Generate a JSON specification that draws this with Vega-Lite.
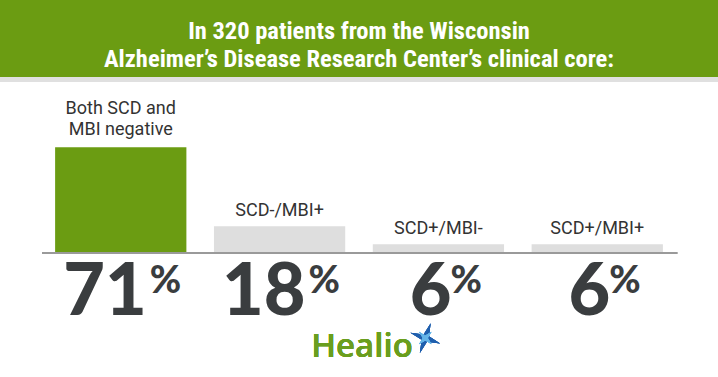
{
  "$schema": "https://vega.github.io/schema/vega-lite/v6.json",
  "width": 718,
  "height": 300,
  "autosize": {"type": "none"},
  "padding": {"top": 77, "left": 0, "right": 0, "bottom": 0},
  "background": "#6b9c12",
  "config": {"view": {"fill": "white", "stroke": null}},
  "title": {
    "text": ["In 320 patients from the Wisconsin", "Alzheimer’s Disease Research Center’s clinical core:"],
    "color": "white",
    "font": "'Roboto Condensed', 'DejaVu Sans Condensed', Roboto, sans-serif",
    "fontWeight": "bold",
    "fontSize": 24.5,
    "lineHeight": 27.5,
    "anchor": "middle",
    "frame": "group",
    "offset": 5
  },
  "data": {
    "values": [
      {"label": "Both SCD and\nMBI negative", "value": 71},
      {"label": "SCD-/MBI+", "value": 18},
      {"label": "SCD+/MBI-", "value": 6},
      {"label": "SCD+/MBI+", "value": 6}
    ]
  },
  "encoding": {
    "x": {"field": "label", "type": "nominal", "sort": null, "axis": null,
          "scale": {"paddingInner": 0.1735, "paddingOuter": 0.347}}
  },
  "layer": [
    {
      "mark": {"type": "rule", "strokeWidth": 5, "color": "#e0e0e0"},
      "encoding": {"x": null, "y": {"datum": 116.3, "type": "quantitative", "scale": {"domain": [-83, 118], "nice": false, "zero": false}, "axis": null}}
    },
    {
      "mark": {"type": "bar"},
      "encoding": {
        "y": {"field": "value", "type": "quantitative", "axis": null},
        "color": {"field": "label", "type": "nominal", "sort": null, "legend": null,
                  "scale": {"range": ["#6b9c12", "#dedede", "#dedede", "#dedede"]}}
      }
    },
    {
      "mark": {"type": "rule", "strokeWidth": 1.5, "color": "#9a9a9a"},
      "encoding": {
        "x": {"datum": "Both SCD and\nMBI negative", "bandPosition": -0.1},
        "x2": {"datum": "SCD+/MBI+", "bandPosition": 1.11},
        "y": {"datum": 0, "type": "quantitative"}
      }
    },
    {
      "transform": [{"filter": "indexof(datum.label, '\\n') < 0"}],
      "mark": {"type": "text", "baseline": "alphabetic", "dy": -10, "font": "Roboto", "fontSize": 18, "color": "#333333"},
      "encoding": {
        "y": {"field": "value", "type": "quantitative"},
        "text": {"field": "label"}
      }
    },
    {
      "transform": [{"filter": "indexof(datum.label, '\\n') >= 0"}],
      "mark": {"type": "text", "baseline": "alphabetic", "dy": -33, "font": "Roboto", "fontSize": 18, "lineHeight": 21, "lineBreak": "\n", "color": "#333333"},
      "encoding": {
        "y": {"field": "value", "type": "quantitative"},
        "text": {"field": "label"}
      }
    },
    {
      "transform": [{"filter": "datum.value >= 10"}],
      "mark": {"type": "text", "align": "right", "baseline": "alphabetic", "dx": 26, "font": "Lato", "fontWeight": 900, "fontSize": 72, "color": "#3a3d3f"},
      "encoding": {"y": {"datum": -41.5, "type": "quantitative"}, "text": {"field": "value"}}
    },
    {
      "transform": [{"filter": "datum.value >= 10"}],
      "mark": {"type": "text", "align": "left", "baseline": "alphabetic", "dx": 29, "font": "Lato", "fontWeight": 900, "fontSize": 38, "color": "#3a3d3f"},
      "encoding": {"y": {"datum": -26.5, "type": "quantitative"}, "text": {"value": "%"}}
    },
    {
      "transform": [{"filter": "datum.value < 10"}],
      "mark": {"type": "text", "align": "right", "baseline": "alphabetic", "dx": 13, "font": "Lato", "fontWeight": 900, "fontSize": 72, "color": "#3a3d3f"},
      "encoding": {"y": {"datum": -41.5, "type": "quantitative"}, "text": {"field": "value"}}
    },
    {
      "transform": [{"filter": "datum.value < 10"}],
      "mark": {"type": "text", "align": "left", "baseline": "alphabetic", "dx": 12, "font": "Lato", "fontWeight": 900, "fontSize": 38, "color": "#3a3d3f"},
      "encoding": {"y": {"datum": -26.5, "type": "quantitative"}, "text": {"value": "%"}}
    },
    {
      "mark": {"type": "text", "align": "center", "baseline": "alphabetic", "font": "Open Sans", "fontWeight": 600, "fontSize": 33, "color": "#6a9e1e"},
      "encoding": {
        "x": {"datum": "SCD-/MBI+", "bandPosition": 1.128},
        "y": {"datum": -69.6, "type": "quantitative"},
        "text": {"value": "Healio"}
      }
    },
    {
      "mark": {"type": "point", "filled": true, "opacity": 1, "angle": 20, "size": 1000, "color": "#1f5fae",
               "shape": "M0,-1 L0.18,-0.18 L1,0 L0.18,0.18 L0,1 L-0.18,0.18 L-1,0 L-0.18,-0.18 Z"},
      "encoding": {
        "x": {"datum": "SCD+/MBI-", "bandPosition": 0.4},
        "y": {"datum": -56.9, "type": "quantitative"}
      }
    },
    {
      "mark": {"type": "point", "filled": true, "opacity": 1, "angle": 45, "size": 320, "color": "#64b4e8",
               "shape": "M0,-1 L0.2,-0.2 L1,0 L0.2,0.2 L0,1 L-0.2,0.2 L-1,0 L-0.2,-0.2 Z"},
      "encoding": {
        "x": {"datum": "SCD+/MBI-", "bandPosition": 0.4},
        "y": {"datum": -56.9, "type": "quantitative"}
      }
    }
  ]
}
